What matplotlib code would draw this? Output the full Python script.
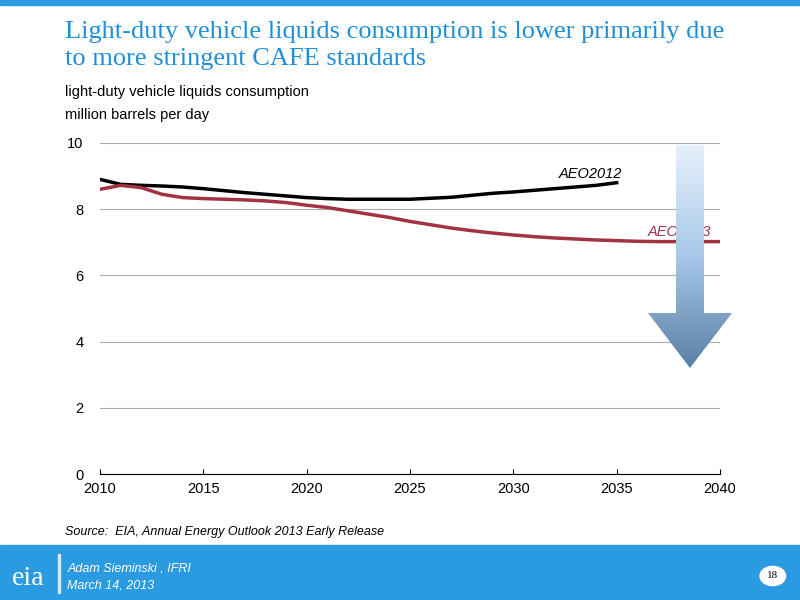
import numpy as np
import matplotlib.pyplot as plt
from matplotlib.patches import Polygon, Rectangle
from matplotlib.colors import LinearSegmentedColormap

years = np.arange(2010, 2041)
aeo2012_years = np.arange(2010, 2036)
aeo2012 = [8.9, 8.75, 8.72, 8.7, 8.67, 8.62, 8.56, 8.5, 8.45, 8.4, 8.35, 8.32,
           8.3, 8.3, 8.3, 8.3, 8.33, 8.36, 8.42, 8.48, 8.52, 8.57, 8.62, 8.67,
           8.72, 8.8]
aeo2013 = [8.6, 8.72, 8.65, 8.45, 8.35, 8.32, 8.3, 8.28, 8.25, 8.2, 8.12, 8.05,
           7.95, 7.85, 7.75, 7.63, 7.53, 7.43, 7.35, 7.28, 7.22, 7.17, 7.13, 7.1,
           7.07, 7.05, 7.03, 7.02, 7.02, 7.02, 7.02]

BLUE = "#1e8fd8"
RED = "#a33343"

fig = plt.figure(figsize=(8, 6), dpi=100)
fig.patch.set_facecolor("white")

# header strip and footer band
fig.patches.append(Rectangle((0, 0.992), 1, 0.008, transform=fig.transFigure,
                             color="#2a9be0", zorder=0))
fig.patches.append(Rectangle((0, 0), 1, 0.092, transform=fig.transFigure,
                             color="#2a9be0", zorder=0))

fig.text(0.081, 0.965, "Light-duty vehicle liquids consumption is lower primarily due\n"
         "to more stringent CAFE standards", family="Liberation Serif", fontsize=19,
         color=BLUE, va="top", linespacing=1.3)
fig.text(0.081, 0.84, "light-duty vehicle liquids consumption", fontsize=10.5,
         family="Liberation Sans")
fig.text(0.081, 0.802, "million barrels per day", fontsize=10.5, family="Liberation Sans")

ax = fig.add_axes([0.125, 0.21, 0.775, 0.5517])
ax.plot(aeo2012_years, aeo2012, color="black", lw=2.5)
ax.plot(years, aeo2013, color=RED, lw=2.5)
ax.set_xlim(2010, 2040)
ax.set_ylim(0, 10)
ax.set_xticks(range(2010, 2041, 5))
ax.set_yticks(range(0, 11, 2))
ax.grid(axis="y", color="#aaaaaa", lw=0.8)
ax.set_axisbelow(True)
for s in ("top", "right", "left"):
    ax.spines[s].set_visible(False)
ax.spines["bottom"].set_color("black")
ax.tick_params(axis="y", length=0, labelsize=10.5, pad=12)
ax.tick_params(axis="x", direction="in", labelsize=10.5, pad=6)
for lbl in ax.get_xticklabels() + ax.get_yticklabels():
    lbl.set_family("Liberation Sans")
ax.text(2032.2, 8.95, "AEO2012", style="italic", fontsize=10.5, family="Liberation Sans")
ax.text(2036.5, 7.2, "AEO2013", style="italic", fontsize=10.5, color=RED,
        family="Liberation Sans")

# gradient arrow
arrow = [(676, 145), (704, 145), (704, 313), (732, 313), (690, 368),
         (648, 313), (676, 313)]
arrow = [(x / 800, 1 - y / 600) for x, y in arrow]
poly = Polygon(arrow, transform=fig.transFigure, facecolor="none", edgecolor="none")
fig.patches.append(poly)
cmap = LinearSegmentedColormap.from_list("arr", ["#5a80a4", "#a7c8e8", "#e6f1fc"])
grad = np.linspace(0, 1, 256).reshape(-1, 1)
ax2 = fig.add_axes([0, 0, 1, 1], zorder=5)
ax2.set_axis_off()
ax2.set_xlim(0, 1)
ax2.set_ylim(0, 1)
img = ax2.imshow(grad, cmap=cmap, origin="lower",
                 extent=(0.80, 0.92, 1 - 368 / 600, 1 - 145 / 600), aspect="auto")
img.set_clip_path(poly)

fig.text(0.081, 0.108, "Source:  EIA, Annual Energy Outlook 2013 Early Release",
         style="italic", fontsize=9, family="Liberation Sans")
fig.text(0.015, 0.025, "eia", family="Liberation Serif", fontsize=20, color="white")
fig.patches.append(Rectangle((0.073, 0.012), 0.0015, 0.065, transform=fig.transFigure,
                             color="white", alpha=0.7))
fig.text(0.084, 0.048, "Adam Sieminski , IFRI", style="italic", fontsize=9,
         color="white", family="Liberation Sans")
fig.text(0.084, 0.020, "March 14, 2013", style="italic", fontsize=9,
         color="white", family="Liberation Sans")
fig.patches.append(plt.Circle((0.966, 0.04), 0.016, transform=fig.transFigure,
                              color="white", zorder=3))
fig.text(0.966, 0.04, "18", ha="center", va="center", fontsize=8,
         family="Liberation Serif", zorder=4)

fig.savefig("out.png", dpi=100)
